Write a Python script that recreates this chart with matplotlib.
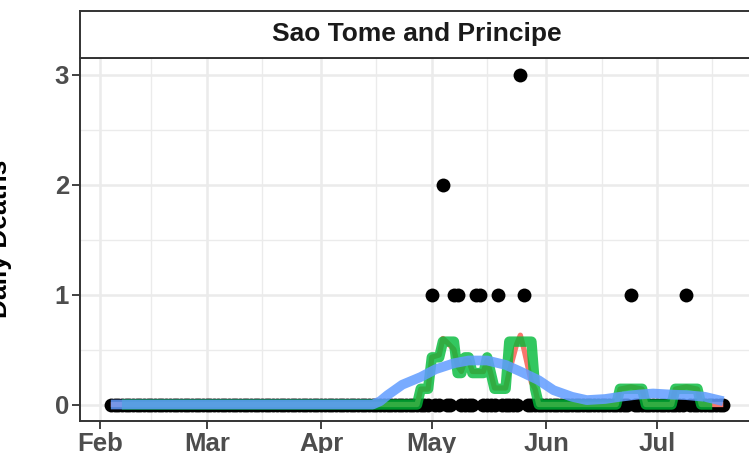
import pandas as pd
import numpy as np
import matplotlib
matplotlib.use("Agg")
import matplotlib.pyplot as plt
import matplotlib.dates as mdates

# -------------------------------
# Data
# -------------------------------
country = "Sao Tome and Principe"
first_day = "2020-02-04"
last_day = "2020-07-19"

# days with reported deaths (all other days are 0)
death_dates = ["2020-05-01", "2020-05-04", "2020-05-07", "2020-05-08",
               "2020-05-13", "2020-05-14", "2020-05-19", "2020-05-25",
               "2020-05-26", "2020-06-24", "2020-07-09"]
death_counts = [1, 2, 1, 1, 1, 1, 1, 3, 1, 1, 1]

# red average line
red_dates = ["2020-02-04", "2020-04-27", "2020-04-28", "2020-04-30", "2020-05-01",
             "2020-05-03", "2020-05-04", "2020-05-05", "2020-05-07", "2020-05-08",
             "2020-05-09", "2020-05-10", "2020-05-11", "2020-05-12", "2020-05-15",
             "2020-05-16", "2020-05-17", "2020-05-18", "2020-05-21", "2020-05-22",
             "2020-05-24", "2020-05-25", "2020-05-26", "2020-05-28", "2020-05-29",
             "2020-05-30", "2020-06-20", "2020-06-21", "2020-06-24", "2020-06-27",
             "2020-06-28", "2020-07-05", "2020-07-06", "2020-07-09", "2020-07-12",
             "2020-07-13", "2020-07-19"]
red_values = [0, 0, 0.14, 0.14, 0.43,
              0.45, 0.60, 0.57, 0.50, 0.35,
              0.30, 0.40, 0.40, 0.30, 0.30,
              0.40, 0.28, 0.15, 0.15, 0.30,
              0.55, 0.63, 0.50, 0.20, 0.14,
              0, 0, 0.14, 0.16, 0.14,
              0, 0, 0.14, 0.16, 0.14,
              0, 0]

# blue smooth line
blue_dates = ["2020-02-04", "2020-04-15", "2020-04-17", "2020-04-19", "2020-04-23",
              "2020-04-28", "2020-05-02", "2020-05-07", "2020-05-11", "2020-05-16",
              "2020-05-21", "2020-05-25", "2020-05-30", "2020-06-03", "2020-06-08",
              "2020-06-12", "2020-06-17", "2020-06-21", "2020-06-26", "2020-06-30",
              "2020-07-05", "2020-07-09", "2020-07-14", "2020-07-19"]
blue_values = [0, 0, 0.03, 0.085, 0.18,
               0.25, 0.32, 0.375, 0.40, 0.40,
               0.36, 0.30, 0.22, 0.13, 0.07,
               0.04, 0.05, 0.07, 0.09, 0.10,
               0.09, 0.085, 0.07, 0.03]

y_ticks = [0, 1, 2, 3]

# -------------------------------
# Build daily series
# -------------------------------
days = pd.date_range(first_day, last_day, freq="D")
daily = pd.Series(0.0, index=days)
daily[pd.to_datetime(death_dates)] = death_counts
week_avg = daily.rolling(7, center=True).mean()

# -------------------------------
# Figure
# -------------------------------
plt.rcParams["font.family"] = ["Liberation Sans", "DejaVu Sans"]
W, H = 749, 453
fig = plt.figure(figsize=(W / 100, H / 100), dpi=100)

left, right, top, bottom = 80.2, 753.9, 58, 421
ax = fig.add_axes([left / W, (H - bottom) / H, (right - left) / W, (bottom - top) / H])
strip = fig.add_axes([left / W, (H - top) / H, (right - left) / W, (top - 11) / H])

ax.plot(days, daily.values, "o", color="black", markersize=10, markeredgewidth=0, zorder=2)
ax.plot(pd.to_datetime(red_dates), red_values, color="#F8766D", lw=3.8,
        solid_joinstyle="round", solid_capstyle="butt", zorder=3)
ax.plot(week_avg.index, week_avg.values, color="#00BA38", lw=7.5, alpha=0.8,
        solid_joinstyle="round", solid_capstyle="butt", zorder=4)
ax.plot(pd.to_datetime(blue_dates), blue_values, color="#619CFF", lw=7, alpha=0.85,
        solid_joinstyle="round", solid_capstyle="butt", zorder=5)

ax.xaxis.set_major_locator(mdates.MonthLocator())
ax.xaxis.set_major_formatter(mdates.DateFormatter("%b"))
minor_x = pd.to_datetime(["2020-02-15", "2020-03-16", "2020-04-16",
                          "2020-05-16", "2020-06-16", "2020-07-16"])
ax.set_xticks(minor_x, minor=True)
ax.set_yticks(y_ticks)
ax.set_yticks([0.5, 1.5, 2.5], minor=True)

# axis ranges like ggplot's 5% expansion (set after the ticks)
lo, hi = mdates.date2num(days[0]), mdates.date2num(days[-1])
pad = 0.05 * (hi - lo)
ax.set_xlim(lo - pad, hi + pad)
ax.set_ylim(-0.15, 3.15)

ax.set_facecolor("white")
ax.grid(which="major", color="#EBEBEB", lw=1.8, zorder=0)
ax.grid(which="minor", color="#EBEBEB", lw=1.0, zorder=0)
ax.set_axisbelow(True)

for s in ax.spines.values():
    s.set_color("#333333")
    s.set_linewidth(1.4)
ax.tick_params(which="major", length=5.5, width=1.3, color="#333333",
               labelsize=18.5, labelcolor="#4D4D4D", pad=2.5)
ax.tick_params(which="minor", length=0)
for lab in ax.get_xticklabels() + ax.get_yticklabels():
    lab.set_fontweight("bold")

# facet strip
strip.set_xticks([])
strip.set_yticks([])
strip.set_facecolor("white")
for s in strip.spines.values():
    s.set_color("#333333")
    s.set_linewidth(1.4)
strip.text(0.5, 0.5, country, transform=strip.transAxes, ha="center", va="center",
           fontsize=19, fontweight="bold", color="#1A1A1A")

# y axis title (partly cut off at the left edge, as in the reference)
fig.text(7 / W, (H - 238.5) / H, "Daily Deaths", rotation=90, rotation_mode="anchor",
         ha="center", va="baseline", fontsize=19, fontweight="bold", color="black")

fig.savefig("out.png", dpi=100)
